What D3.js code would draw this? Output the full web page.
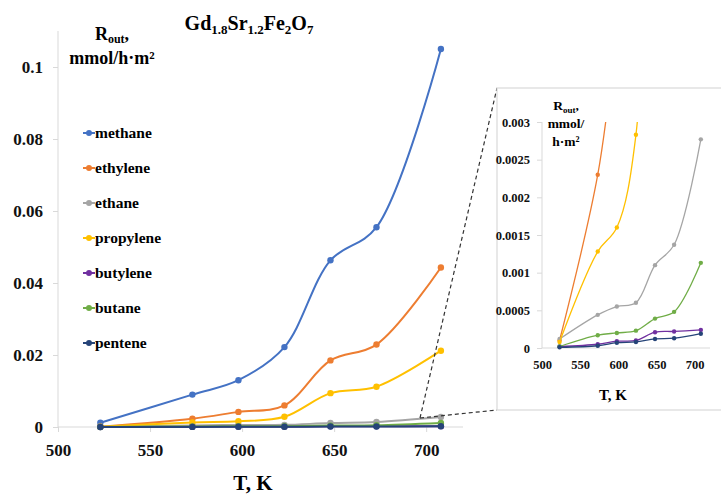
<!DOCTYPE html>
<html>
<head>
<meta charset="utf-8">
<script src="https://cdn.jsdelivr.net/npm/d3@7"></script>
<style>
html,body{margin:0;padding:0;background:#fff;}
</style>
</head>
<body>
<svg id="c" width="721" height="495" font-family="Liberation Serif, DejaVu Serif, serif" font-weight="bold"></svg>
<script>
const temps = [523, 573, 598, 623, 648, 673, 708];
const methane   = [0.0012, 0.0090, 0.0130, 0.0222, 0.0463, 0.0555, 0.1050];
const ethylene  = [0.0001, 0.0023, 0.0042, 0.0060, 0.0185, 0.0229, 0.0443];
const ethane    = [0.00012, 0.00044, 0.00055, 0.00060, 0.00110, 0.00137, 0.00277];
const propylene = [0.00008, 0.00128, 0.00160, 0.00283, 0.0094, 0.0112, 0.0212];
const butylene  = [0.00002, 0.00005, 0.00009, 0.00010, 0.00021, 0.00022, 0.00024];
const butane    = [0.00002, 0.00017, 0.00020, 0.00023, 0.00039, 0.00048, 0.00113];
const pentene   = [0.00001, 0.00003, 0.00007, 0.00008, 0.00012, 0.00013, 0.00019];
const seriesNames = ["methane","ethylene","ethane","propylene","butylene","butane","pentene"];
const seriesColors = ["#4472C4","#ED7D31","#A5A5A5","#FFC000","#7030A0","#70AD47","#264478"];
const insetSeries = ["ethylene","ethane","propylene","butylene","butane","pentene"];
const mainYTicks = [0, 0.02, 0.04, 0.06, 0.08, 0.1];
const insetYTicks = [0, 0.0005, 0.001, 0.0015, 0.002, 0.0025, 0.003];
const xTicks = [500, 550, 600, 650, 700];

const seriesValues = [methane, ethylene, ethane, propylene, butylene, butane, pentene];
const series = seriesNames.map((n,i)=>({name:n, color:seriesColors[i], pts: temps.map((t,j)=>({t, v:seriesValues[i][j]}))}));

const FONT = "Liberation Serif, DejaVu Serif, serif";
const svg = d3.select("#c");
const axisColor = "#d9d9d9";

function styleAxis(g, size){
  g.attr("font-family", FONT).attr("font-weight","bold");
  g.selectAll(".tick line").attr("stroke",axisColor);
  g.selectAll(".tick text").attr("font-size",size).attr("fill","#111").attr("font-family",FONT);
}

// ---------- main chart ----------
const x = d3.scaleLinear().domain([500,720]).range([58,463]);
const y = d3.scaleLinear().domain([0,0.11]).range([427,31]);

const gAxY = svg.append("g").attr("transform","translate(58,0)")
  .call(d3.axisLeft(y).tickValues(mainYTicks).tickSize(5).tickPadding(10).tickFormat(d=>String(+d.toFixed(2))));
gAxY.select(".domain").attr("stroke",axisColor).attr("d","M0,31V427");
styleAxis(gAxY, 17);

const gAxX = svg.append("g").attr("transform","translate(0,427)")
  .call(d3.axisBottom(x).tickValues(xTicks).tickSize(5).tickPadding(12).tickFormat(d3.format("d")));
gAxX.select(".domain").attr("stroke",axisColor).attr("d","M58,0H463");
styleAxis(gAxX, 17);

const lineMain = d3.line().x(d=>x(d.t)).y(d=>y(d.v)).curve(d3.curveCatmullRom.alpha(0.5));
const gMain = svg.append("g");
series.forEach(s=>{
  gMain.append("path").attr("d",lineMain(s.pts)).attr("fill","none").attr("stroke",s.color).attr("stroke-width",2);
  gMain.selectAll(null).data(s.pts).enter().append("circle")
    .attr("cx",d=>x(d.t)).attr("cy",d=>y(d.v)).attr("r",3.2).attr("fill",s.color);
});

// title
const title = svg.append("text").attr("x",249).attr("y",30).attr("text-anchor","middle").attr("font-size",20);
title.append("tspan").text("Gd");
title.append("tspan").attr("font-size",13).attr("dy",4).text("1.8");
title.append("tspan").attr("dy",-4).text("Sr");
title.append("tspan").attr("font-size",13).attr("dy",4).text("1.2");
title.append("tspan").attr("dy",-4).text("Fe");
title.append("tspan").attr("font-size",13).attr("dy",4).text("2");
title.append("tspan").attr("dy",-4).text("O");
title.append("tspan").attr("font-size",13).attr("dy",4).text("7");

// y label
const yl1 = svg.append("text").attr("x",112).attr("y",40).attr("text-anchor","middle").attr("font-size",18);
yl1.append("tspan").text("R");
yl1.append("tspan").attr("font-size",12).attr("dy",3).text("out");
yl1.append("tspan").attr("dy",-3).text(",");
svg.append("text").attr("x",112).attr("y",64).attr("text-anchor","middle").attr("font-size",18).text("mmol/h·m²");

// x label
svg.append("text").attr("x",253).attr("y",490).attr("text-anchor","middle").attr("font-size",21).text("T, K");

// legend
series.forEach((s,i)=>{
  const cy = 133 + 35*i;
  svg.append("line").attr("x1",83).attr("x2",95).attr("y1",cy).attr("y2",cy).attr("stroke",s.color).attr("stroke-width",2);
  svg.append("circle").attr("cx",89).attr("cy",cy).attr("r",3).attr("fill",s.color);
  svg.append("text").attr("x",95).attr("y",cy+5).attr("font-size",15.5).text(s.name);
});

// ---------- zoom connector ----------
const zx = 420, zy = 418;
svg.append("line").attr("x1",zx).attr("y1",zy).attr("x2",497).attr("y2",88).attr("stroke","#333").attr("stroke-width",1.2).attr("stroke-dasharray","4,3");
svg.append("line").attr("x1",zx).attr("y1",zy).attr("x2",497).attr("y2",410).attr("stroke","#333").attr("stroke-width",1.2).attr("stroke-dasharray","4,3");

// ---------- inset ----------
svg.append("rect").attr("x",497).attr("y",88).attr("width",240).attr("height",322).attr("fill","#fff").attr("stroke",axisColor).attr("stroke-width",1.2);

const xi = d3.scaleLinear().domain([500,720]).range([542,710]);
const yi = d3.scaleLinear().domain([0,0.003]).range([348,122]);

const gIY = svg.append("g").attr("transform","translate(542,0)")
  .call(d3.axisLeft(yi).tickValues(insetYTicks).tickSize(5).tickPadding(7).tickFormat(d=>String(+d.toFixed(4))));
gIY.select(".domain").attr("stroke",axisColor).attr("d","M0,122V348");
styleAxis(gIY, 12.5);

const gIX = svg.append("g").attr("transform","translate(0,348)")
  .call(d3.axisBottom(xi).tickValues(xTicks).tickSize(0).tickPadding(12).tickFormat(d3.format("d")));
gIX.select(".domain").attr("stroke",axisColor).attr("d","M542,0H710");
styleAxis(gIX, 12.5);

svg.append("defs").append("clipPath").attr("id","ic").append("rect").attr("x",540).attr("y",122).attr("width",180).attr("height",230);
const gIn = svg.append("g").attr("clip-path","url(#ic)");
const lineIn = d3.line().x(d=>xi(d.t)).y(d=>yi(d.v)).curve(d3.curveCatmullRom.alpha(0.5));
series.filter(s=>insetSeries.includes(s.name)).forEach(s=>{
  gIn.append("path").attr("d",lineIn(s.pts)).attr("fill","none").attr("stroke",s.color).attr("stroke-width",1.3);
  gIn.selectAll(null).data(s.pts.filter(d=>d.v<=0.003)).enter().append("circle")
    .attr("cx",d=>xi(d.t)).attr("cy",d=>yi(d.v)).attr("r",2.2).attr("fill",s.color);
});

const il1 = svg.append("text").attr("x",566).attr("y",110).attr("text-anchor","middle").attr("font-size",13.5);
il1.append("tspan").text("R");
il1.append("tspan").attr("font-size",9).attr("dy",2.5).text("out");
il1.append("tspan").attr("dy",-2.5).text(",");
svg.append("text").attr("x",566).attr("y",128).attr("text-anchor","middle").attr("font-size",13.5).text("mmol/");
svg.append("text").attr("x",566).attr("y",146).attr("text-anchor","middle").attr("font-size",13.5).text("h·m²");
svg.append("text").attr("x",613).attr("y",400).attr("text-anchor","middle").attr("font-size",15).text("T, K");
</script>
</body>
</html>
